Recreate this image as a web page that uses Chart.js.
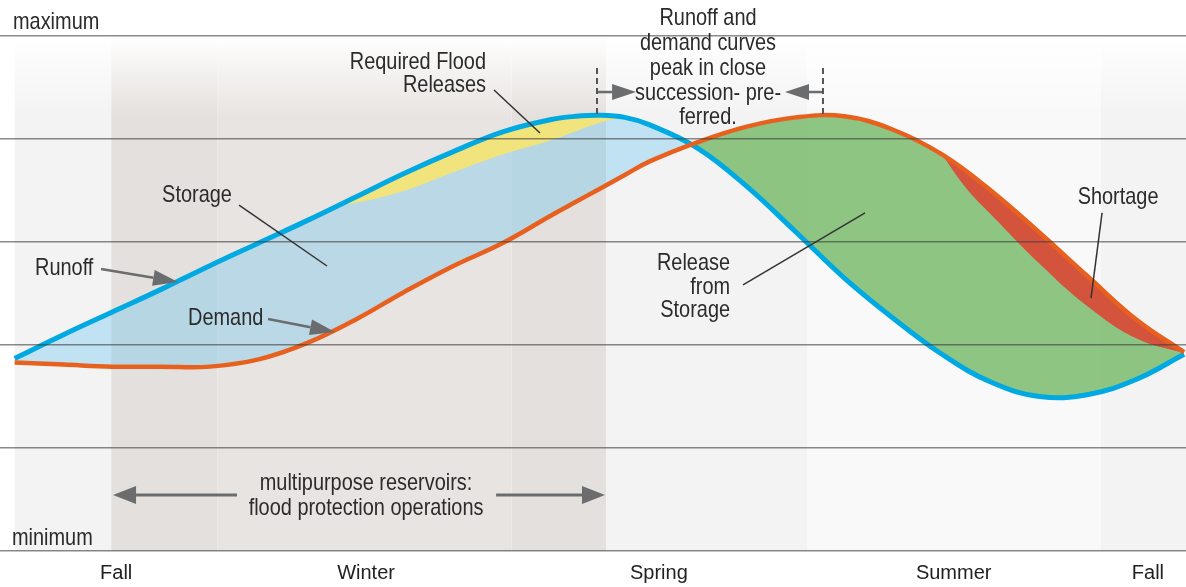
<!DOCTYPE html>
<html>
<head>
<meta charset="utf-8">
<script src="https://cdn.jsdelivr.net/npm/chart.js@4.4.1/dist/chart.umd.min.js"></script>
<style>
  html, body { margin: 0; padding: 0; background: #fff; }
  #wrap { width: 1186px; height: 587px; }
</style>
</head>
<body>
<div id="wrap"><canvas id="chart"></canvas></div>
<script>
// x = months since the start of fall, y = level between minimum (0) and maximum (5)
let months = [0, 0.5, 1, 1.5, 2, 2.5, 3, 3.5, 4, 4.5, 5, 5.5, 5.75, 6, 6.25, 6.5, 7, 7.5, 8, 8.5, 9, 9.5, 10, 10.5, 11, 11.5, 11.98];
let runoff = [1.87, 2.10, 2.32, 2.54, 2.77, 2.99, 3.21, 3.44, 3.67, 3.88, 4.07, 4.19, 4.22, 4.23, 4.21, 4.14, 3.91, 3.54, 3.10, 2.65, 2.26, 1.91, 1.64, 1.50, 1.52, 1.67, 1.91];
let demand = [1.83, 1.81, 1.79, 1.79, 1.79, 1.86, 2.02, 2.25, 2.52, 2.77, 2.99, 3.26, 3.39, 3.52, 3.65, 3.78, 3.97, 4.12, 4.21, 4.22, 4.09, 3.85, 3.50, 3.09, 2.66, 2.24, 1.93];

// lower edge of the required flood releases
let floodMonths = [3.33, 3.5, 4, 4.5, 5, 5.5, 6, 6.25];
let floodLower = [3.36, 3.38, 3.50, 3.68, 3.85, 3.99, 4.16, 4.21];

// lower edge of the shortage
let shortMonths = [9.5, 9.75, 10, 10.5, 11, 11.5, 11.98];
let shortLower = [3.85, 3.52, 3.27, 2.79, 2.37, 2.06, 1.92];

let seasonPos = [1.04, 3.6, 6.6, 9.62, 11.61];
let seasonLabels = ["Fall", "Winter", "Spring", "Summer", "Fall"];

// shaded periods behind the curves (months)
let bandEdges = [0, 0.99, 2.08, 5.09, 6.06, 8.12, 11.13, 12];

const FONT = '"Liberation Sans", Arial, sans-serif';
const TEXT = "#2b2b2b";

function pts(xs, ys) {
    return xs.map((x, i) => ({ x: x, y: ys[i] }));
}

let backdrop = {
    id: "backdrop",
    beforeDraw(chart) {
        let ctx = chart.ctx, a = chart.chartArea, x = chart.scales.x;
        let colors = ["#f3f3f3", "#e4e0dd", "#e8e4e1", "#e4e0dd", "#f3f3f3", "#f9f9f9", "#f3f3f3"];
        ctx.save();
        ctx.fillStyle = "#fff";
        ctx.fillRect(0, 0, chart.width, chart.height);
        for (let i = 0; i < bandEdges.length - 1; i++) {
            let x0 = x.getPixelForValue(bandEdges[i]);
            let x1 = x.getPixelForValue(bandEdges[i + 1]);
            ctx.fillStyle = colors[i];
            ctx.fillRect(x0, a.top, x1 - x0, a.bottom - a.top);
        }
        let g = ctx.createLinearGradient(0, a.top, 0, a.top + 80);
        g.addColorStop(0, "rgba(255,255,255,1)");
        g.addColorStop(1, "rgba(255,255,255,0)");
        ctx.fillStyle = g;
        ctx.fillRect(a.left, a.top, a.right - a.left, 80);
        ctx.restore();
    }
};

function arrow(ctx, x0, y0, x1, y1, len, half, width) {
    let ang = Math.atan2(y1 - y0, x1 - x0);
    let bx = x1 - len * Math.cos(ang), by = y1 - len * Math.sin(ang);
    ctx.lineWidth = width;
    ctx.beginPath();
    ctx.moveTo(x0, y0);
    ctx.lineTo(bx, by);
    ctx.stroke();
    ctx.beginPath();
    ctx.moveTo(x1, y1);
    ctx.lineTo(bx - half * Math.sin(ang), by + half * Math.cos(ang));
    ctx.lineTo(bx + half * Math.sin(ang), by - half * Math.cos(ang));
    ctx.closePath();
    ctx.fill();
}

// narrow lettering: a taller font squeezed sideways
function label(ctx, text, x, y, align) {
    ctx.save();
    ctx.translate(x, y);
    ctx.scale(0.83, 1);
    ctx.textAlign = align;
    ctx.fillText(text, 0, 0);
    ctx.restore();
}

let notes = {
    id: "notes",
    afterDraw(chart) {
        let ctx = chart.ctx, xs = chart.scales.x, ys = chart.scales.y;
        let X = m => xs.getPixelForValue(m);
        let Y = v => ys.getPixelForValue(v);
        ctx.save();

        let texts = [
            ["maximum", -0.017, 5.136, "left"],
            ["minimum", -0.027, 0.126, "left"],
            ["Required Flood", 4.829, 4.748, "right"],
            ["Releases", 4.829, 4.524, "right"],
            ["Storage", 1.868, 3.456, "center"],
            ["Runoff", 0.209, 2.748, "left"],
            ["Demand", 1.776, 2.262, "left"],
            ["multipurpose reservoirs:", 3.6, 0.660, "center"],
            ["flood protection operations", 3.6, 0.417, "center"],
            ["Runoff and", 7.103, 5.174, "center"],
            ["demand curves", 7.103, 4.932, "center"],
            ["peak in close", 7.103, 4.689, "center"],
            ["succession- pre-", 7.103, 4.446, "center"],
            ["ferred.", 7.103, 4.213, "center"],
            ["Release", 7.329, 2.796, "right"],
            ["from", 7.329, 2.563, "right"],
            ["Storage", 7.329, 2.340, "right"],
            ["Shortage", 11.304, 3.437, "center"]
        ];
        ctx.font = "24px " + FONT;
        ctx.fillStyle = TEXT;
        ctx.textBaseline = "middle";
        texts.forEach(t => label(ctx, t[0], X(t[1]), Y(t[2]), t[3]));

        // leader lines
        ctx.strokeStyle = "#333";
        ctx.lineWidth = 1.5;
        [
            [4.911, 4.476, 5.382, 4.058],
            [2.299, 3.359, 3.200, 2.767],
            [7.462, 2.583, 8.712, 3.282],
            [11.140, 3.282, 11.027, 2.456]
        ].forEach(l => {
            ctx.beginPath();
            ctx.moveTo(X(l[0]), Y(l[1]));
            ctx.lineTo(X(l[2]), Y(l[3]));
            ctx.stroke();
        });

        // arrows
        ctx.strokeStyle = "#6b6c6e";
        ctx.fillStyle = "#6b6c6e";
        arrow(ctx, X(0.885), Y(2.738), X(1.674), Y(2.612), 25, 8, 2.5);
        arrow(ctx, X(2.596), Y(2.252), X(3.282), Y(2.126), 25, 8, 2.5);
        arrow(ctx, X(2.278), Y(0.544), X(1.008), Y(0.544), 23, 9, 3);
        arrow(ctx, X(4.932), Y(0.544), X(6.048), Y(0.544), 23, 9, 3);
        arrow(ctx, X(5.966), Y(4.456), X(6.366), Y(4.456), 24, 8, 2.5);
        arrow(ctx, X(8.281), Y(4.456), X(7.892), Y(4.456), 24, 8, 2.5);

        // dashed markers at the two peaks
        ctx.strokeStyle = "#555";
        ctx.lineWidth = 2;
        ctx.setLineDash([6, 4]);
        [5.966, 8.281].forEach(m => {
            ctx.beginPath();
            ctx.moveTo(X(m), Y(4.689));
            ctx.lineTo(X(m), Y(4.233));
            ctx.stroke();
        });
        ctx.restore();
    }
};

let chart = new Chart(document.getElementById("chart"), {
    type: "line",
    data: {
        datasets: [
            {
                label: "Shortage",
                data: pts(shortMonths, shortLower),
                borderColor: "transparent",
                borderWidth: 0,
                pointRadius: 0,
                backgroundColor: "#d4533d",
                fill: 2
            },
            {
                label: "Required Flood Releases",
                data: pts(floodMonths, floodLower),
                borderColor: "transparent",
                borderWidth: 0,
                pointRadius: 0,
                backgroundColor: "#f1e47c",
                fill: 3
            },
            {
                label: "Demand",
                data: pts(months, demand),
                borderColor: "#e8601e",
                borderWidth: 4.5,
                pointRadius: 0,
                fill: false
            },
            {
                label: "Runoff",
                data: pts(months, runoff),
                borderColor: "#00a9e2",
                borderWidth: 5,
                pointRadius: 0,
                fill: { target: 2, above: "rgba(100,195,240,0.35)", below: "rgba(120,185,105,0.82)" }
            }
        ]
    },
    options: {
        responsive: true,
        maintainAspectRatio: false,
        animation: false,
        events: [],
        layout: { padding: { top: 36, bottom: 0, left: 0, right: 0 } },
        elements: { line: { tension: 0.4, cubicInterpolationMode: "default" } },
        plugins: {
            legend: { display: false },
            tooltip: { enabled: false },
            filler: { drawTime: "beforeDatasetsDraw" }
        },
        scales: {
            x: {
                type: "linear",
                min: -0.15,
                max: 12,
                grid: { display: false },
                border: { display: false },
                afterBuildTicks: axis => {
                    axis.ticks = seasonPos.map(v => ({ value: v }));
                },
                afterFit: axis => {
                    axis.height = 36;
                },
                ticks: {
                    autoSkip: false,
                    maxRotation: 0,
                    padding: 2,
                    color: "#222",
                    font: { family: FONT, size: 20 },
                    callback: (v, i) => seasonLabels[i]
                }
            },
            y: {
                min: 0,
                max: 5,
                ticks: { display: false, stepSize: 1 },
                border: { display: false },
                grid: { color: "rgba(60,60,60,0.6)", lineWidth: 1.5, drawTicks: false, z: 1 }
            }
        }
    },
    plugins: [backdrop, notes]
});
</script>
</body>
</html>
